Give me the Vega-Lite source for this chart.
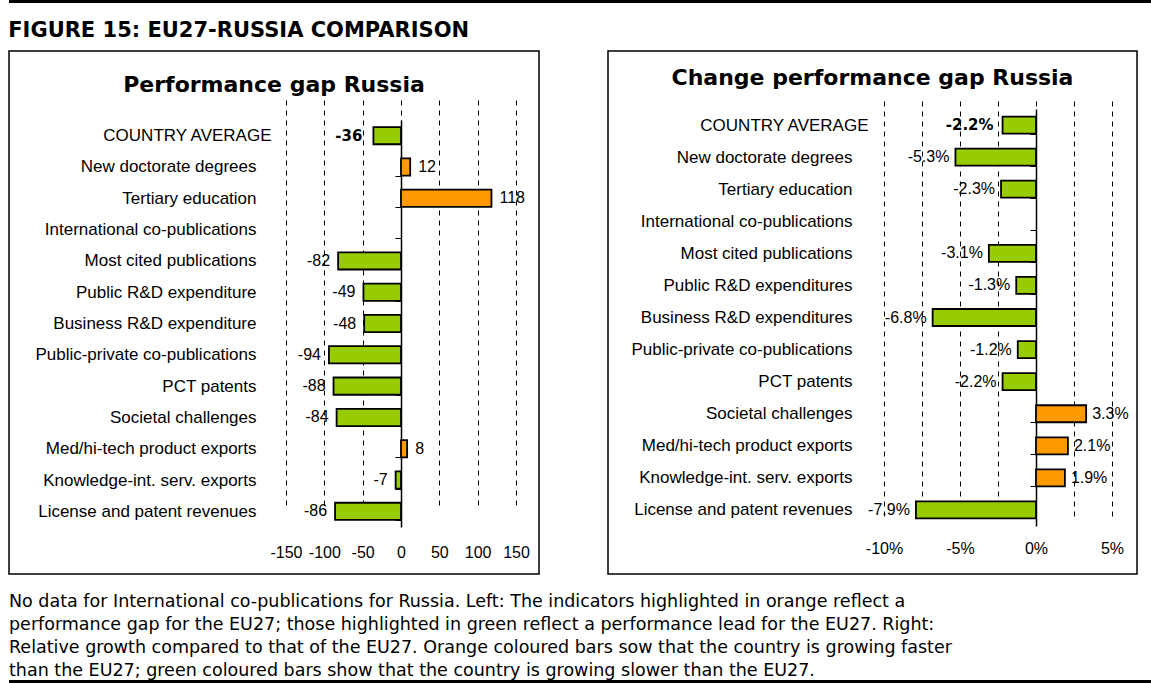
{
  "$schema": "https://vega.github.io/schema/vega-lite/v6.json",
  "padding": {"left": 8, "top": 0, "right": 0, "bottom": 0},
  "background": "white",
  "spacing": 17,
  "config": {
    "locale": {"number": {"decimal": ".", "thousands": ",", "grouping": [3], "currency": ["$", ""], "minus": "-"}},
    "font": "Liberation Sans"
  },
  "vconcat": [
    {
      "width": 1143,
      "height": 3,
      "view": {"fill": "black", "stroke": null},
      "data": {"values": []},
      "mark": {"type": "text"},
      "encoding": {"text": {"value": ""}}
    },
    {
      "title": {"text": "FIGURE 15: EU27-RUSSIA COMPARISON", "anchor": "start", "font": "DejaVu Sans", "fontSize": 21, "fontWeight": "bold", "color": "black", "offset": 3, "dy": 3},
      "spacing": 67,
      "hconcat": [
        {
          "width": 530,
          "height": 523,
          "view": {"stroke": "black", "strokeWidth": 1.5, "fill": "white"},
          "title": {"text": "Performance gap Russia", "font": "DejaVu Sans", "fontSize": 22, "fontWeight": "bold", "color": "black", "anchor": "middle", "offset": -55},
          "data": {"values": [
            {"indicator": "COUNTRY AVERAGE", "value": -36},
            {"indicator": "New doctorate degrees", "value": 12},
            {"indicator": "Tertiary education", "value": 118},
            {"indicator": "Most cited publications", "value": -82},
            {"indicator": "Public R&D expenditure", "value": -49},
            {"indicator": "Business R&D expenditure", "value": -48},
            {"indicator": "Public-private co-publications", "value": -94},
            {"indicator": "PCT patents", "value": -88},
            {"indicator": "Societal challenges", "value": -84},
            {"indicator": "Med/hi-tech product exports", "value": 8},
            {"indicator": "Knowledge-int. serv. exports", "value": -7},
            {"indicator": "License and patent revenues", "value": -86}
          ]},
          "encoding": {
            "y": {
              "field": "indicator", "type": "nominal", "sort": null,
              "scale": {
                "domain": ["COUNTRY AVERAGE", "New doctorate degrees", "Tertiary education", "International co-publications", "Most cited publications", "Public R&D expenditure", "Business R&D expenditure", "Public-private co-publications", "PCT patents", "Societal challenges", "Med/hi-tech product exports", "Knowledge-int. serv. exports", "License and patent revenues"],
                "range": [69, 476], "paddingInner": 0.45, "paddingOuter": 0.225
              },
              "axis": {
                "title": null, "offset": -392, "domain": true, "domainColor": "black", "domainWidth": 1.5,
                "ticks": true, "tickBand": "extent", "tickSize": 6, "tickColor": "black", "tickWidth": 1,
                "labelPadding": {"condition": {"test": "datum.value === 'COUNTRY AVERAGE'", "value": 124}, "value": 139},
                "labelFont": "Liberation Sans", "labelFontSize": 17, "labelColor": "black", "labelLimit": 400, "labelOverlap": false, "grid": false
              }
            },
            "x": {
              "field": "value", "type": "quantitative",
              "scale": {"domain": [-150, 150], "range": [277, 507], "nice": false, "zero": false},
              "axis": {
                "title": null, "values": [-150, -100, -50, 0, 50, 100, 150], "format": "d", "offset": -47,
                "domain": false, "ticks": false, "labelPadding": 17, "labelFont": "Liberation Sans", "labelFontSize": 16,
                "labelColor": "black", "labelFlush": false, "labelOverlap": false,
                "grid": true, "gridColor": "black", "gridDash": [5, 5], "gridWidth": 1
              }
            }
          },
          "layer": [
            {
              "mark": {"type": "bar", "stroke": "black", "strokeWidth": 1.8},
              "encoding": {"color": {"condition": {"test": "datum.value > 0", "value": "#FF9900"}, "value": "#99CC00"}}
            },
            {
              "transform": [{"filter": "datum.value < 0 && datum.indicator !== 'COUNTRY AVERAGE'"}],
              "mark": {"type": "text", "align": "right", "baseline": "middle", "dx": -8, "font": "Liberation Sans", "fontSize": 16, "color": "black"},
              "encoding": {"text": {"field": "value", "type": "quantitative", "format": "d"}}
            },
            {
              "transform": [{"filter": "datum.value > 0"}],
              "mark": {"type": "text", "align": "left", "baseline": "middle", "dx": 8, "font": "Liberation Sans", "fontSize": 16, "color": "black"},
              "encoding": {"text": {"field": "value", "type": "quantitative", "format": "d"}}
            },
            {
              "transform": [{"filter": "datum.indicator === 'COUNTRY AVERAGE'"}],
              "mark": {"type": "text", "align": "right", "baseline": "middle", "dx": -11, "font": "DejaVu Sans", "fontSize": 15, "fontWeight": "bold", "color": "black"},
              "encoding": {"text": {"field": "value", "type": "quantitative", "format": "d"}}
            }
          ]
        },
        {
          "width": 529,
          "height": 523,
          "view": {"stroke": "black", "strokeWidth": 1.5, "fill": "white"},
          "title": {"text": "Change performance gap Russia", "font": "DejaVu Sans", "fontSize": 22, "fontWeight": "bold", "color": "black", "anchor": "middle", "offset": -48},
          "data": {"values": [
            {"indicator": "COUNTRY AVERAGE", "value": -0.022},
            {"indicator": "New doctorate degrees", "value": -0.053},
            {"indicator": "Tertiary education", "value": -0.023},
            {"indicator": "Most cited publications", "value": -0.031},
            {"indicator": "Public R&D expenditures", "value": -0.013},
            {"indicator": "Business R&D expenditures", "value": -0.068},
            {"indicator": "Public-private co-publications", "value": -0.012},
            {"indicator": "PCT patents", "value": -0.022},
            {"indicator": "Societal challenges", "value": 0.033},
            {"indicator": "Med/hi-tech product exports", "value": 0.021},
            {"indicator": "Knowledge-int. serv. exports", "value": 0.019},
            {"indicator": "License and patent revenues", "value": -0.079}
          ]},
          "encoding": {
            "y": {
              "field": "indicator", "type": "nominal", "sort": null,
              "scale": {
                "domain": ["COUNTRY AVERAGE", "New doctorate degrees", "Tertiary education", "International co-publications", "Most cited publications", "Public R&D expenditures", "Business R&D expenditures", "Public-private co-publications", "PCT patents", "Societal challenges", "Med/hi-tech product exports", "Knowledge-int. serv. exports", "License and patent revenues"],
                "range": [58, 475], "paddingInner": 0.47, "paddingOuter": 0.235
              },
              "axis": {
                "title": null, "offset": -428, "domain": true, "domainColor": "black", "domainWidth": 1.5,
                "ticks": true, "tickBand": "extent", "tickSize": 6, "tickColor": "black", "tickWidth": 1,
                "labelPadding": {"condition": {"test": "datum.value === 'COUNTRY AVERAGE'", "value": 162}, "value": 178},
                "labelFont": "Liberation Sans", "labelFontSize": 17, "labelColor": "black", "labelLimit": 400, "labelOverlap": false, "grid": false
              }
            },
            "x": {
              "field": "value", "type": "quantitative",
              "scale": {"domain": [-0.1, 0.05], "range": [276, 504], "nice": false, "zero": false},
              "axis": {
                "title": null, "values": [-0.1, -0.075, -0.05, -0.025, 0, 0.025, 0.05],
                "labelExpr": "round(datum.value * 1000) % 50 === 0 ? format(datum.value, '.0%') : ''",
                "offset": -48, "domain": false, "ticks": false, "labelPadding": 14, "labelFont": "Liberation Sans", "labelFontSize": 16,
                "labelColor": "black", "labelFlush": false, "labelOverlap": false,
                "grid": true, "gridColor": "black", "gridDash": [5, 5], "gridWidth": 1
              }
            }
          },
          "layer": [
            {
              "mark": {"type": "bar", "stroke": "black", "strokeWidth": 1.8},
              "encoding": {"color": {"condition": {"test": "datum.value > 0", "value": "#FF9900"}, "value": "#99CC00"}}
            },
            {
              "transform": [{"filter": "datum.value < 0 && datum.indicator !== 'COUNTRY AVERAGE'"}],
              "mark": {"type": "text", "align": "right", "baseline": "middle", "dx": -6, "font": "Liberation Sans", "fontSize": 16, "color": "black"},
              "encoding": {"text": {"field": "value", "type": "quantitative", "format": ".1%"}}
            },
            {
              "transform": [{"filter": "datum.value > 0"}],
              "mark": {"type": "text", "align": "left", "baseline": "middle", "dx": 6, "font": "Liberation Sans", "fontSize": 16, "color": "black"},
              "encoding": {"text": {"field": "value", "type": "quantitative", "format": ".1%"}}
            },
            {
              "transform": [{"filter": "datum.indicator === 'COUNTRY AVERAGE'"}],
              "mark": {"type": "text", "align": "right", "baseline": "middle", "dx": -9, "font": "DejaVu Sans", "fontSize": 15, "fontWeight": "bold", "color": "black"},
              "encoding": {"text": {"field": "value", "type": "quantitative", "format": ".1%"}}
            }
          ]
        }
      ]
    },
    {
      "width": 1143,
      "height": 3,
      "view": {"fill": "black", "stroke": null},
      "title": {
        "text": [
          "No data for International co-publications for Russia. Left: The indicators highlighted in orange reflect a",
          "performance gap for the EU27; those highlighted in green reflect a performance lead for the EU27. Right:",
          "Relative growth compared to that of the EU27. Orange coloured bars sow that the country is growing faster",
          "than the EU27; green coloured bars show that the country is growing slower than the EU27."
        ],
        "orient": "top", "anchor": "start", "font": "DejaVu Sans", "fontSize": 17.5, "fontWeight": "normal", "color": "black", "lineHeight": 23.3, "offset": 0
      },
      "data": {"values": []},
      "mark": {"type": "text"},
      "encoding": {"text": {"value": ""}}
    }
  ]
}
